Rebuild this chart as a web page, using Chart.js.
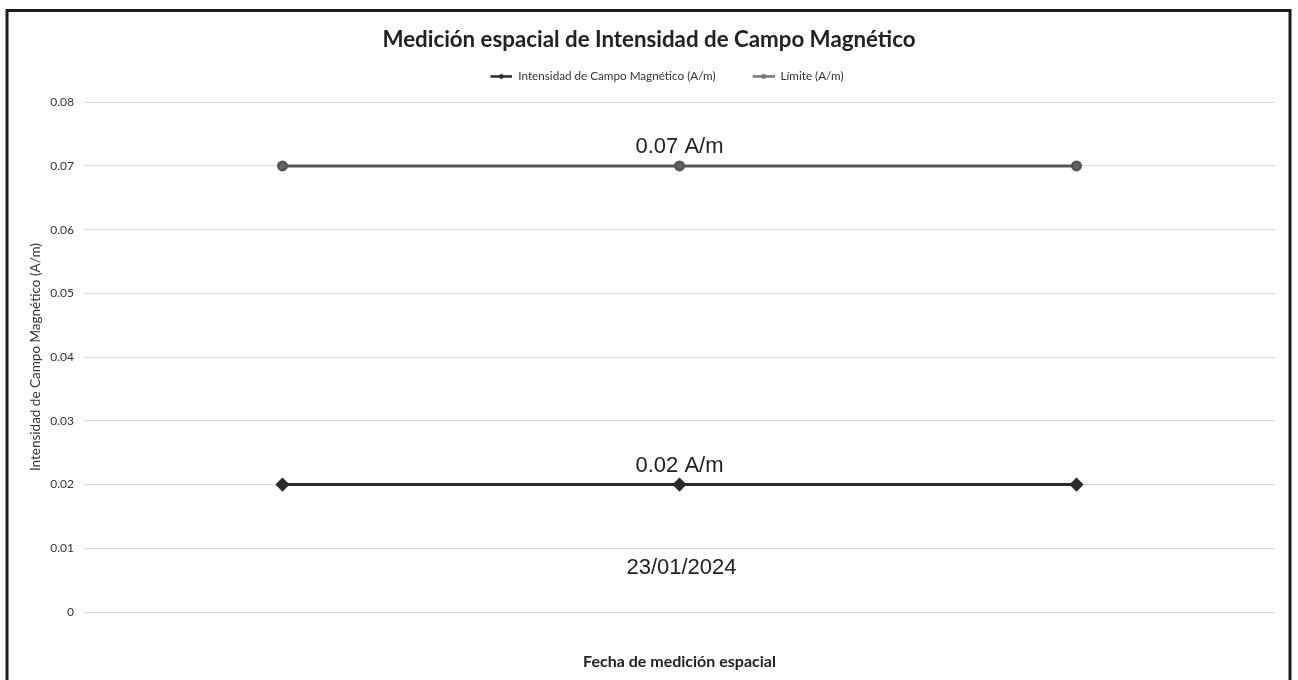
<!DOCTYPE html>
<html>
<head>
<meta charset="utf-8">
<script src="https://cdn.jsdelivr.net/npm/chart.js@4.4.1/dist/chart.umd.min.js"></script>
<style>
  html, body { margin: 0; padding: 0; background: #fff; }
  #wrap { position: relative; width: 1298px; height: 680px; }
</style>
</head>
<body>
<div id="wrap"><canvas id="chart"></canvas></div>
<script>
// --- data ---
const fechas = ['23/01/2024', '23/01/2024', '23/01/2024'];
const intensidad = [0.02, 0.02, 0.02];
const limite = [0.07, 0.07, 0.07];
const yMin = 0;
const yMax = 0.08;
const yStep = 0.01;

const FONT = "Lato, 'Open Sans', sans-serif";
const BOX_FONT = "'Liberation Sans', Arial, sans-serif";

// legend swatch: blank lead-in, then a short line with a marker (Excel style)
function makeSwatch(color, shape) {
    const c = document.createElement('canvas');
    c.width = 58; c.height = 9;
    const g = c.getContext('2d');
    g.strokeStyle = color; g.fillStyle = color; g.lineWidth = 2.5;
    g.beginPath(); g.moveTo(36, 4.5); g.lineTo(58, 4.5); g.stroke();
    g.beginPath();
    if (shape === 'diamond') {
        g.moveTo(47, 1.5); g.lineTo(50, 4.5); g.lineTo(47, 7.5); g.lineTo(44, 4.5);
    } else {
        g.arc(47, 4.5, 2.5, 0, Math.PI * 2);
    }
    g.fill();
    return c;
}

// text boxes: value above the middle point of each series, date under the lower series
const textBoxes = {
    id: 'textBoxes',
    afterDatasetsDraw(chart) {
        const ctx = chart.ctx;
        const x = chart.scales.x;
        ctx.save();
        ctx.fillStyle = '#222';
        ctx.textAlign = 'center';
        ctx.textBaseline = 'middle';
        ctx.font = '22px ' + BOX_FONT;
        chart.data.datasets.forEach((ds, i) => {
            const pt = chart.getDatasetMeta(i).data[1];
            ctx.fillText(ds.data[1].toFixed(2) + ' A/m', pt.x, pt.y - 19);
        });
        ctx.fillText(chart.data.labels[1], x.getPixelForValue(1) + 2, chart.chartArea.bottom - 44);
        ctx.restore();
    }
};

const frame = {
    id: 'frame',
    afterDraw(chart) {
        const ctx = chart.ctx;
        ctx.save();
        ctx.strokeStyle = '#1c1c1c';
        ctx.lineWidth = 3;
        ctx.strokeRect(7, 10.5, 1283, 700);
        ctx.restore();
    }
};

const colors = { main: '#2a2a2a', limit: '#555' };

new Chart(document.getElementById('chart'), {
    type: 'line',
    data: {
        labels: fechas,
        datasets: [
            {
                label: 'Intensidad de Campo Magnético (A/m)',
                data: intensidad,
                borderColor: colors.main,
                backgroundColor: colors.main,
                borderWidth: 3,
                pointStyle: 'rectRot',
                pointRadius: 5,
                swatch: makeSwatch(colors.main, 'diamond')
            },
            {
                label: 'Límite (A/m)',
                data: limite,
                borderColor: colors.limit,
                backgroundColor: '#666',
                borderWidth: 3,
                pointStyle: 'circle',
                pointRadius: 4,
                swatch: makeSwatch('#777', 'circle')
            }
        ]
    },
    options: {
        responsive: true,
        maintainAspectRatio: false,
        animation: false,
        layout: { padding: { top: 0, left: 8, right: 8, bottom: 0 } },
        scales: {
            x: {
                offset: true,
                grid: { display: false },
                border: { display: false },
                ticks: { display: false },
                title: {
                    display: true,
                    text: 'Fecha de medición espacial',
                    color: '#222',
                    font: { family: FONT, size: 16, weight: 'bold' },
                    padding: { top: 0, bottom: 9 }
                },
                afterFit(scale) { scale.height = 68; }
            },
            y: {
                min: yMin,
                max: yMax,
                ticks: { stepSize: yStep, color: '#333', font: { family: FONT, size: 12 }, padding: 10 },
                grid: { color: '#d9d9d9', lineWidth: 1, drawTicks: false },
                border: { display: false },
                title: {
                    display: true,
                    text: 'Intensidad de Campo Magnético (A/m)',
                    color: '#333',
                    font: { family: FONT, size: 13.5 },
                    padding: { top: 20, bottom: 0 }
                },
                afterFit(scale) { scale.width = 76; }
            },
            // empty right margin so the plot ends where the reference's does
            yRight: {
                position: 'right',
                grid: { display: false },
                border: { display: false },
                ticks: { display: false },
                afterFit(scale) { scale.width = 15; }
            }
        },
        plugins: {
            title: {
                display: true,
                text: 'Medición espacial de Intensidad de Campo Magnético',
                color: '#222',
                font: { family: FONT, size: 22.3, weight: 'bold', lineHeight: 1.1 },
                padding: { top: 28, bottom: 17 }
            },
            subtitle: {
                display: true,
                text: ' ',
                weight: 500,
                font: { size: 10, lineHeight: 1 },
                padding: 0
            },
            legend: {
                labels: {
                    color: '#333',
                    font: { family: FONT, size: 11.7 },
                    padding: 1,
                    usePointStyle: true,
                    pointStyleWidth: 58,
                    generateLabels(chart) {
                        const items = Chart.defaults.plugins.legend.labels.generateLabels(chart);
                        items.forEach(it => { it.pointStyle = chart.data.datasets[it.datasetIndex].swatch; });
                        return items;
                    }
                }
            },
            tooltip: { enabled: false }
        }
    },
    plugins: [textBoxes, frame]
});
</script>
</body>
</html>
